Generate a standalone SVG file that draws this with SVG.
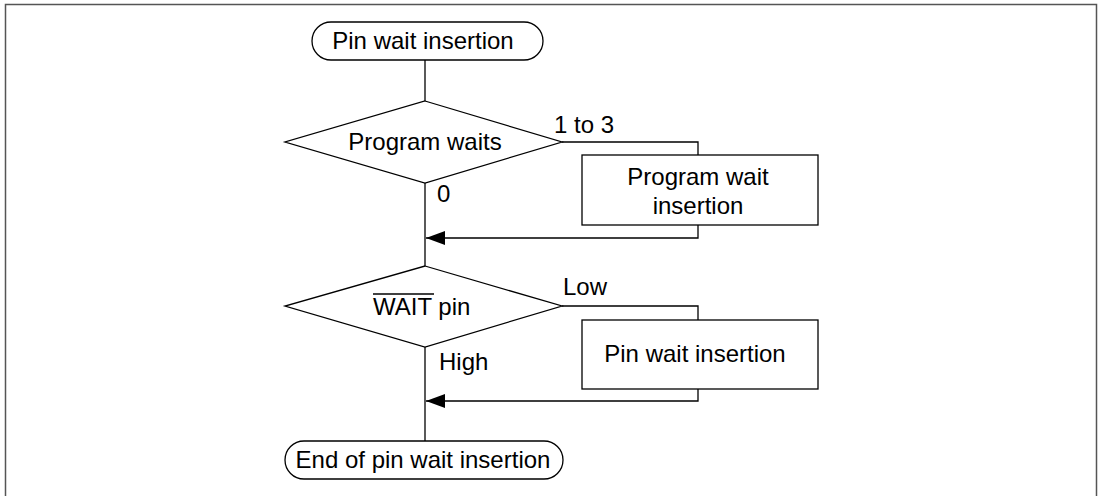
<svg xmlns="http://www.w3.org/2000/svg" width="1102" height="496" viewBox="0 0 1102 496">
<style>
.s{fill:#fff;stroke:#000;stroke-width:1.3}
.c{fill:none;stroke:#000;stroke-width:1.3}
text{font-family:"Liberation Sans",Arial,sans-serif;font-size:24px;fill:#000}
.m{text-anchor:middle}
</style>
<defs>
<marker id="ah" markerWidth="20" markerHeight="14" refX="19" refY="7" orient="auto" markerUnits="userSpaceOnUse">
<path d="M0,0 L19,7 L0,14 Z" fill="#000"/>
</marker>
</defs>
<rect width="1102" height="496" fill="#fff"/>
<path d="M5.5,496 V4.5 H1096.5 V496" fill="none" stroke="#555" stroke-width="1.5"/>
<g id="connectors">
<path class="c" d="M425,60 V101"/>
<path class="c" d="M425,183 V266"/>
<path class="c" d="M425,347 V441"/>
<path class="c" d="M562,142 H698 V155"/>
<path class="c" d="M698,225 V238 H426" marker-end="url(#ah)"/>
<path class="c" d="M562,306 H698 V320"/>
<path class="c" d="M698,389 V401 H426" marker-end="url(#ah)"/>
<text x="554" y="133">1 to 3</text>
<text x="437" y="202">0</text>
<text x="563" y="295">Low</text>
<text x="439" y="370">High</text>
</g>
<g id="start">
<rect class="s" x="312" y="22" width="231" height="38" rx="19"/>
<text class="m" x="423" y="49">Pin wait insertion</text>
</g>
<g id="d1">
<polygon class="s" points="425,101 562,142 425,183 285,142"/>
<text class="m" x="425" y="150">Program waits</text>
</g>
<g id="b1">
<rect class="s" x="582" y="155" width="236" height="70"/>
<text class="m" x="698" y="185">Program wait</text>
<text class="m" x="698" y="214">insertion</text>
</g>
<g id="d2">
<polygon class="s" points="425,266 562,306 425,347 285,306"/>
<text x="373" y="315">WAIT pin</text>
<line x1="373" y1="294" x2="434" y2="294" stroke="#000" stroke-width="1.3"/>
</g>
<g id="b2">
<rect class="s" x="582" y="320" width="236" height="69"/>
<text class="m" x="695" y="362">Pin wait insertion</text>
</g>
<g id="end">
<rect class="s" x="285" y="441" width="278" height="38" rx="19"/>
<text class="m" x="423" y="468">End of pin wait insertion</text>
</g>
</svg>
